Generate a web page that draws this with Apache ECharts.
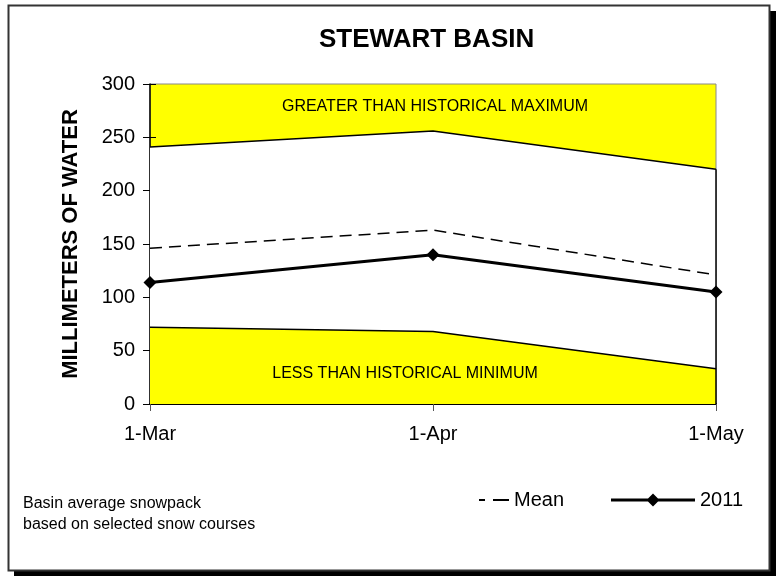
<!DOCTYPE html>
<html>
<head>
<meta charset="utf-8">
<script src="https://cdn.jsdelivr.net/npm/echarts@6/dist/echarts.min.js"></script>
<style>
  html, body { margin: 0; padding: 0; background: #fff; }
  #chart { width: 781px; height: 577px; }
</style>
</head>
<body>
<div id="chart"></div>
<script>
const categories = ['1-Mar', '1-Apr', '1-May']
const maxValues = [241, 256, 220]
const minValues = [72, 68, 33]
const meanValues = [146, 163, 121]
const values2011 = [114, 140, 105]
const yTicks = { min: 0, max: 300, interval: 50 }

const FONT = '"Liberation Sans", Arial, sans-serif'

// legend icons drawn like the Excel ones: "- —" dashes, and a line with a diamond
const meanIcon = 'path://M0,0h6v2h-6z M14,0h16v2h-16z'
const icon2011 = 'path://M0,5h84v3h-84z M35.5,6.5L42,0L48.5,6.5L42,13z'

const chart = echarts.init(document.getElementById('chart'))

chart.setOption({
  animation: false,
  textStyle: { fontFamily: FONT, color: '#000' },
  title: {
    text: 'STEWART BASIN',
    left: 319,
    top: 27,
    padding: 0,
    textStyle: { fontFamily: FONT, fontSize: 26, fontWeight: 'bold', color: '#000' }
  },
  grid: {
    left: 150,
    right: 65,
    top: 84,
    bottom: 173,
    show: true,
    backgroundColor: '#ffff00',
    borderColor: '#888',
    borderWidth: 1
  },
  legend: [
    {
      data: [{ name: 'Mean', icon: meanIcon }],
      left: 479,
      top: 490,
      padding: 0,
      itemWidth: 30,
      itemHeight: 2,
      itemStyle: { color: '#000' },
      textStyle: { fontFamily: FONT, fontSize: 20, color: '#000' }
    },
    {
      data: [{ name: '2011', icon: icon2011 }],
      left: 611,
      top: 490,
      padding: 0,
      itemWidth: 84,
      itemHeight: 13,
      itemStyle: { color: '#000' },
      textStyle: { fontFamily: FONT, fontSize: 20, color: '#000' }
    }
  ],
  xAxis: {
    type: 'category',
    data: categories,
    boundaryGap: false,
    axisLine: { lineStyle: { color: '#000', width: 2 } },
    axisTick: { length: 7, lineStyle: { color: '#555' } },
    axisLabel: { fontFamily: FONT, fontSize: 20, color: '#000', margin: 20 },
    splitLine: { show: false }
  },
  yAxis: [
    {
      type: 'value',
      min: yTicks.min,
      max: yTicks.max,
      interval: yTicks.interval,
      name: 'MILLIMETERS OF WATER',
      nameLocation: 'middle',
      nameRotate: 90,
      nameGap: 68,
      nameTextStyle: { fontFamily: FONT, fontSize: 22, fontWeight: 'bold', color: '#000' },
      axisLine: { show: true, lineStyle: { color: '#000', width: 1.5 } },
      axisTick: { show: true, length: 7, lineStyle: { color: '#000' } },
      axisLabel: { fontFamily: FONT, fontSize: 20, color: '#000', margin: 15 },
      splitLine: { show: false }
    },
    {
      // inner half of the crossing ticks
      type: 'value',
      position: 'left',
      offset: 0,
      min: yTicks.min,
      max: yTicks.max,
      interval: yTicks.interval,
      axisLine: { show: false },
      axisTick: { show: true, inside: true, length: 6, lineStyle: { color: '#000' } },
      axisLabel: { show: false },
      splitLine: { show: false }
    }
  ],
  series: [
    {
      name: 'Max',
      type: 'line',
      data: maxValues,
      symbol: 'none',
      silent: true,
      lineStyle: { color: '#000', width: 1.5 },
      areaStyle: { color: '#fff', opacity: 1, origin: 'start' },
      z: 1
    },
    {
      name: 'Min',
      type: 'line',
      data: minValues,
      symbol: 'none',
      silent: true,
      lineStyle: { color: '#000', width: 1.5 },
      areaStyle: { color: '#ffff00', opacity: 1, origin: 'start' },
      z: 2
    },
    {
      name: 'Mean',
      type: 'line',
      data: meanValues,
      symbol: 'none',
      lineStyle: { color: '#000', width: 1.5, type: [12, 7] },
      itemStyle: { color: '#000' },
      z: 3,
      markLine: {
        silent: true,
        symbol: 'none',
        label: { show: false },
        lineStyle: { color: '#000', width: 1.5, type: 'solid' },
        data: [[{ coord: [categories[2], yTicks.min] }, { coord: [categories[2], maxValues[2]] }]]
      }
    },
    {
      name: '2011',
      type: 'line',
      data: values2011,
      symbol: 'diamond',
      symbolSize: 13,
      showAllSymbol: true,
      lineStyle: { color: '#000', width: 3 },
      itemStyle: { color: '#000' },
      z: 4
    }
  ],
  graphic: [
    {
      type: 'rect',
      z: -10,
      silent: true,
      shape: { x: 14, y: 11, width: 762, height: 565 },
      style: { fill: '#000' }
    },
    {
      type: 'rect',
      z: -9,
      silent: true,
      shape: { x: 8.5, y: 5.5, width: 761, height: 565 },
      style: { fill: '#fff', stroke: '#333', lineWidth: 2 }
    },
    {
      type: 'text',
      z: 10,
      silent: true,
      x: 435,
      y: 107,
      style: {
        text: 'GREATER THAN HISTORICAL MAXIMUM',
        font: '16px ' + FONT,
        fill: '#000',
        textAlign: 'center',
        textVerticalAlign: 'middle'
      }
    },
    {
      type: 'text',
      z: 10,
      silent: true,
      x: 405,
      y: 374,
      style: {
        text: 'LESS THAN HISTORICAL MINIMUM',
        font: '16px ' + FONT,
        fill: '#000',
        textAlign: 'center',
        textVerticalAlign: 'middle'
      }
    },
    {
      type: 'text',
      z: 10,
      silent: true,
      x: 23,
      y: 504,
      style: {
        text: 'Basin average snowpack',
        font: '16px ' + FONT,
        fill: '#000',
        textAlign: 'left',
        textVerticalAlign: 'middle'
      }
    },
    {
      type: 'text',
      z: 10,
      silent: true,
      x: 23,
      y: 525,
      style: {
        text: 'based on selected snow courses',
        font: '16px ' + FONT,
        fill: '#000',
        textAlign: 'left',
        textVerticalAlign: 'middle'
      }
    }
  ]
})
</script>
</body>
</html>
